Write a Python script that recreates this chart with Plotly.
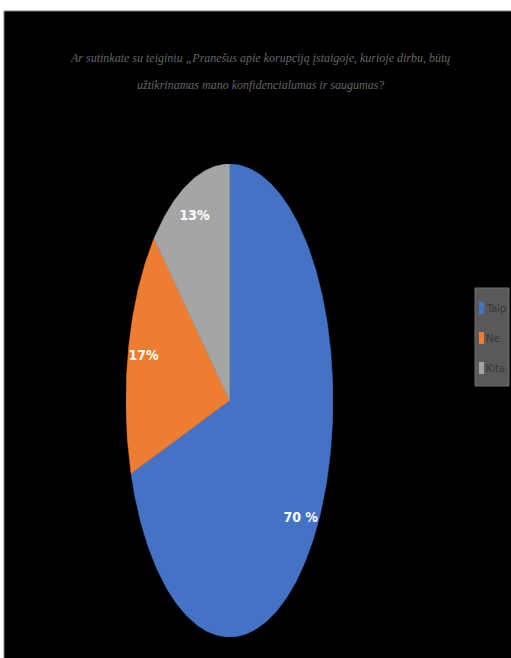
import numpy as np
import plotly.graph_objects as go

# ---- data ----
categories = ["Taip", "Ne", "Kita"]
values = [70, 17, 13]
value_labels = ["70 %", "17%", "13%"]
colors = ["#4472C4", "#ED7D31", "#A5A5A5"]
title_lines = [
    "Ar sutinkate su teiginiu „Pranešus apie korupciją įstaigoje, kurioje dirbu, būtų",
    "užtikrinamas mano konfidencialumas ir saugumas?",
]

W, H = 511, 658


def px(x):
    return x / W


def py(y):
    return 1 - y / H


fig = go.Figure()

total = float(sum(values))
start = 0.0
for cat, val, lab, col in zip(categories, values, value_labels, colors):
    frac = val / total
    a0 = start * 2 * np.pi
    a1 = (start + frac) * 2 * np.pi
    n = max(int(frac * 400), 8)
    th = np.linspace(a0, a1, n)
    xs = np.concatenate([[0.0], np.sin(th), [0.0]])
    ys = np.concatenate([[0.0], np.cos(th), [0.0]])
    fig.add_trace(go.Scatter(
        x=xs, y=ys, mode="lines", fill="toself", fillcolor=col,
        line=dict(color=col, width=0.5), name=cat, showlegend=False,
        hoverinfo="name",
    ))
    mid = (start + frac / 2) * 2 * np.pi
    fig.add_trace(go.Scatter(
        x=[0.85 * np.sin(mid)], y=[0.85 * np.cos(mid)], mode="text",
        text=[lab], textposition="middle center",
        textfont=dict(family="Liberation Sans Narrow, DejaVu Sans Condensed, Arial Narrow, sans-serif",
                      size=14, color="white", weight="bold"),
        showlegend=False, hoverinfo="skip",
    ))
    start += frac

shapes = [
    dict(type="rect", xref="paper", yref="paper", x0=px(4), x1=1.02, y0=-0.02, y1=py(11),
         fillcolor="black", line=dict(color="#7f7f7f", width=1), layer="below"),
    # legend box
    dict(type="rect", xref="paper", yref="paper", x0=px(475), x1=px(509), y0=py(386), y1=py(288),
         fillcolor="#595959", line=dict(color="#6f6f6f", width=1), layer="above"),
]
annotations = []
for i, (cat, col) in enumerate(zip(categories, colors)):
    yc = 308 + i * 30
    shapes.append(dict(type="rect", xref="paper", yref="paper", x0=px(479), x1=px(484),
                       y0=py(yc + 6), y1=py(yc - 6), fillcolor=col, line=dict(width=0),
                       layer="above"))
    annotations.append(dict(x=px(484), y=py(yc), xref="paper", yref="paper", text=cat,
                            showarrow=False, xanchor="left", yanchor="middle",
                            font=dict(family="Liberation Sans Narrow, DejaVu Sans Condensed, sans-serif",
                                      size=11, color="#363636")))

for i, line in enumerate(title_lines):
    annotations.append(dict(x=px(260), y=py(58 + i * 27), xref="paper", yref="paper",
                            text="<i>" + line + "</i>", showarrow=False,
                            xanchor="center", yanchor="middle",
                            font=dict(family="Liberation Serif, Times New Roman, serif",
                                      size=12, color="#666666")))

fig.update_layout(
    width=W, height=H,
    margin=dict(l=0, r=0, t=0, b=0),
    paper_bgcolor="white",
    plot_bgcolor="rgba(0,0,0,0)",
    showlegend=False,
    xaxis=dict(domain=[px(126), px(333)], range=[-1, 1], visible=False, fixedrange=True),
    yaxis=dict(domain=[py(637), py(164)], range=[-1, 1], visible=False, fixedrange=True),
    shapes=shapes,
    annotations=annotations,
)

fig.write_html("out.html", config={"displayModeBar": False},
               post_script="document.body.style.margin='0';document.body.style.overflow='hidden';")
